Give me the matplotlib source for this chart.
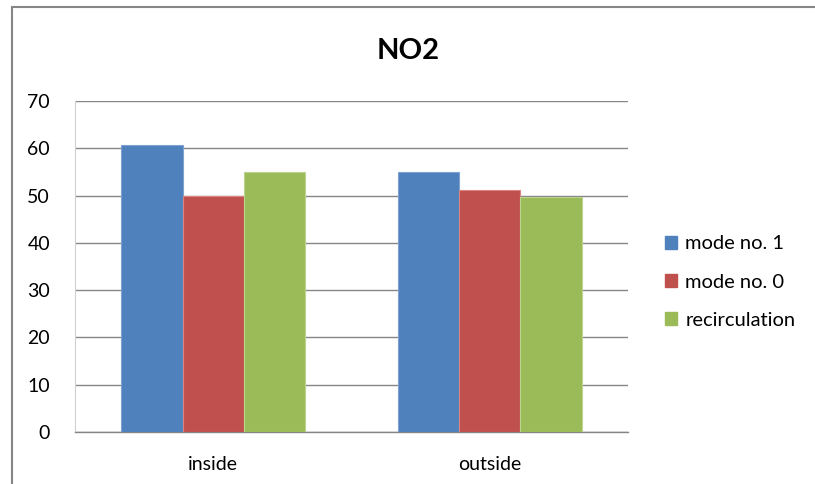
import matplotlib
matplotlib.use("Agg")
import matplotlib.pyplot as plt
import matplotlib.patches as mpatches
import numpy as np

plt.rcParams['font.family'] = ['Lato', 'DejaVu Sans']

categories = ['inside', 'outside']
series_names = ['mode no. 1', 'mode no. 0', 'recirculation']
mode1 = [60.6, 55.0]
mode0 = [50.0, 51.2]
recirc = [55.0, 49.8]
colors = ['#4F81BD', '#C0504D', '#9BBB59']
edges = ['#7EA3D1', '#D88583', '#BCD48E']

fig = plt.figure(figsize=(8.15, 4.84), dpi=100)
W, H = 815, 484
ax = fig.add_axes([75 / W, 1 - 432 / H, (628 - 75) / W, (432 - 101) / H])

# chart-area frame, runs off the right and bottom edges
frame = mpatches.Rectangle((12 / W, -0.1), 1.2, 1 - 7.5 / H + 0.1, transform=fig.transFigure,
                           fill=False, edgecolor='#868686', linewidth=1.5, zorder=0)
fig.add_artist(frame)

x = np.arange(len(categories))
w = 0.222
for i, (vals, c, e) in enumerate(zip([mode1, mode0, recirc], colors, edges)):
    ax.bar(x + (i - 1) * w, vals, width=w, color=c, edgecolor=e, linewidth=0.8,
           label=series_names[i], zorder=3)

ax.set_xlim(-0.5, 1.5)
ax.set_ylim(0, 70)
ax.set_yticks(range(0, 71, 10))
ax.set_xticks(x)
ax.set_xticklabels(categories)
ax.yaxis.grid(True, color='#868686', linewidth=1.0, zorder=0)
ax.tick_params(axis='both', length=0, labelsize=14, colors='black')
ax.tick_params(axis='y', pad=18)
ax.tick_params(axis='x', pad=17)
for s in ['top', 'right']:
    ax.spines[s].set_visible(False)
ax.spines['left'].set_color('#D0D0D0')
ax.spines['bottom'].set_color('#868686')
ax.spines['bottom'].set_linewidth(1.0)

fig.text(408 / W, 1 - 51 / H, 'NO2', ha='center', va='center', fontsize=21, fontweight='bold')

handles = [mpatches.Patch(color=c) for c in colors]
fig.legend(handles, series_names, loc='center left', bbox_to_anchor=(647 / W, 1 - 282 / H),
           frameon=False, fontsize=14.5, handlelength=0.6, handleheight=0.6,
           handletextpad=0.4, labelspacing=1.05)

fig.savefig('out.png', dpi=100)
